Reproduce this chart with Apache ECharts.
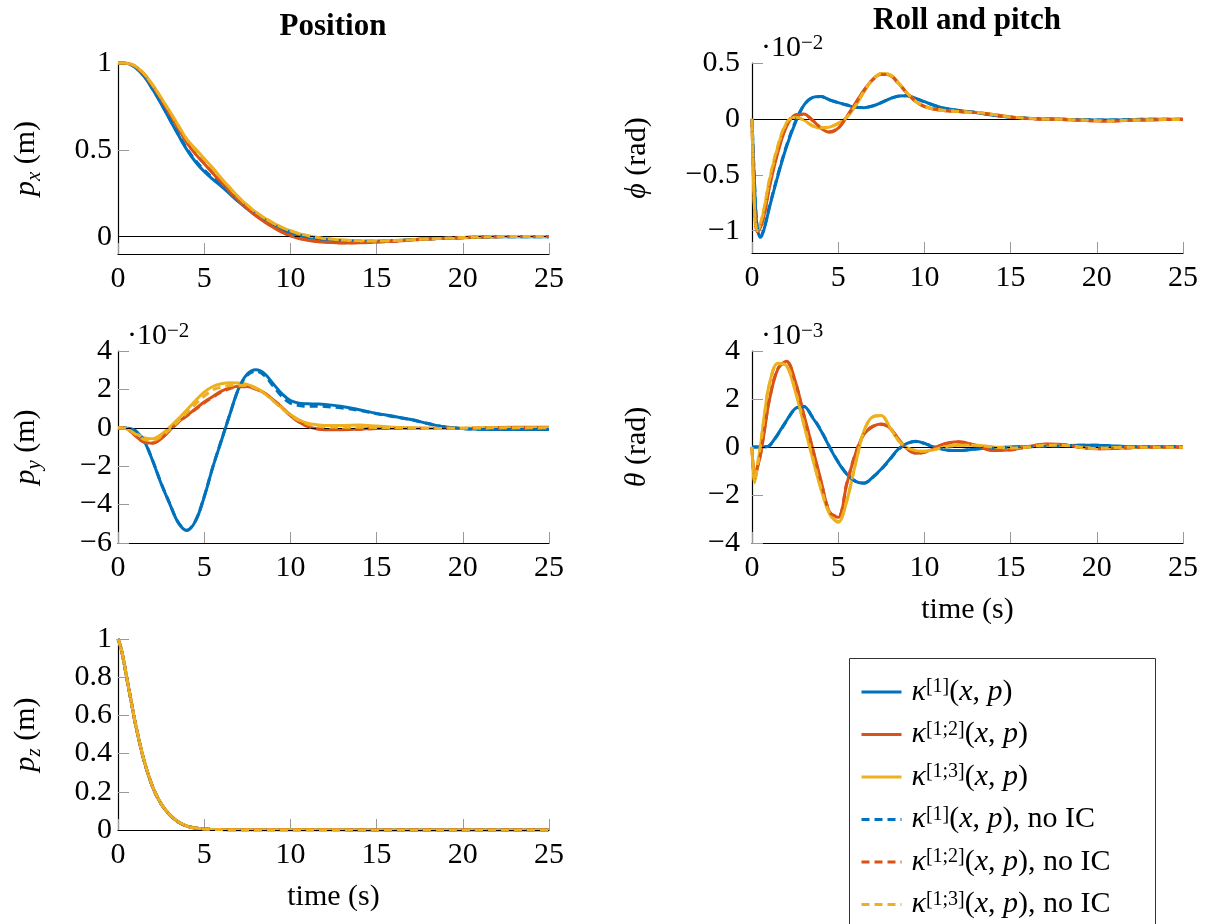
<!DOCTYPE html>
<html><head><meta charset="utf-8">
<script src="https://cdn.jsdelivr.net/npm/echarts@6/dist/echarts.min.js"></script>
<style>html,body{margin:0;padding:0;background:#fff}#c{width:1208px;height:924px}</style>
</head><body><div id="c"></div>
<script>
// ---------------- DATA ----------------
const TIME = [0,0.15,0.3,0.5,0.75,1,1.5,2,2.5,3,3.5,4,4.5,5,5.5,6,6.5,7,7.5,8,8.5,9,9.5,10,10.5,11,11.5,12,13,14,15,16,17,18,19,20,21,22,23,24,25];
const X_TICKS = [0,5,10,15,20,25];
const PX_TICKS = [0,0.5,1];
const PY_TICKS = [-6,-4,-2,0,2,4];
const PZ_TICKS = [0,0.2,0.4,0.6,0.8,1];
const PHI_TICKS = [-1,-0.5,0,0.5];
const THETA_TICKS = [-4,-2,0,2,4];
const SERIES_NAMES = ['κ[1](x, p)','κ[1;2](x, p)','κ[1;3](x, p)','κ[1](x, p), no IC','κ[1;2](x, p), no IC','κ[1;3](x, p), no IC'];

// p_x (m)
const PX_K1 = [1,1,1,0.998,0.99,0.975, 0.925,0.85,0.765,0.675,0.585,0.5,0.43,0.375,0.33,0.29,0.245,0.2,0.16,0.122,0.09,0.064,0.04,0.02,0.006,-0.005,-0.013,-0.019, -0.026,-0.028,-0.027,-0.023,-0.018,-0.013,-0.009,-0.006,-0.003,-0.001,0,0,0];
const PX_K12 = [1,1,1,0.998,0.992,0.98, 0.935,0.868,0.79,0.705,0.622,0.54,0.475,0.42,0.365,0.31,0.255,0.205,0.16,0.12,0.085,0.054,0.026,0.004,-0.011,-0.021,-0.028,-0.032, -0.036,-0.035,-0.031,-0.026,-0.02,-0.014,-0.009,-0.005,-0.002,0,0.001,0.001,0.001];
const PX_K13 = [1,1,1,0.998,0.993,0.982, 0.94,0.875,0.8,0.722,0.64,0.56,0.505,0.45,0.395,0.335,0.28,0.226,0.18,0.14,0.107,0.078,0.053,0.033,0.017,0.005,-0.004,-0.011, -0.02,-0.024,-0.025,-0.022,-0.018,-0.013,-0.009,-0.005,-0.002,0,0.001,0.001,0.001];
const PX_K1_NOIC = [1,1,1,0.998,0.99,0.976, 0.927,0.853,0.768,0.678,0.59,0.506,0.438,0.383,0.338,0.295,0.25,0.206,0.166,0.128,0.097,0.07,0.046,0.026,0.01,-0.002,-0.01,-0.016, -0.023,-0.026,-0.026,-0.023,-0.018,-0.013,-0.009,-0.006,-0.003,-0.001,0,0,0];
const PX_K12_NOIC = [1,1,1,0.998,0.992,0.98, 0.936,0.87,0.793,0.708,0.625,0.544,0.478,0.423,0.368,0.313,0.258,0.208,0.163,0.123,0.088,0.057,0.029,0.007,-0.009,-0.019,-0.026,-0.031, -0.035,-0.034,-0.031,-0.026,-0.02,-0.014,-0.009,-0.005,-0.002,0,0.001,0.001,0.001];
const PX_K13_NOIC = [1,1,1,0.998,0.993,0.982, 0.94,0.874,0.799,0.72,0.638,0.558,0.5,0.446,0.392,0.333,0.279,0.226,0.181,0.141,0.108,0.079,0.054,0.034,0.018,0.006,-0.003,-0.01, -0.019,-0.024,-0.025,-0.022,-0.018,-0.013,-0.009,-0.005,-0.002,0,0.001,0.001,0.001];

// p_y (m) x 1e-2
const PY_K1 = [0,0,0,-0.02,-0.06,-0.15, -0.66,-1.7,-2.9,-3.96,-4.95,-5.35,-4.85,-3.6,-2.05,-0.66,0.73,2.05,2.8,3.02,2.82,2.3,1.78,1.42,1.28,1.25,1.24,1.22, 1.11,0.94,0.75,0.6,0.43,0.22,0.04,-0.04,-0.08,-0.09,-0.09,-0.09,-0.09];
const PY_K12 = [0,0,-0.01,-0.05,-0.2,-0.4, -0.75,-0.8,-0.57,-0.14,0.3,0.64,0.99,1.34,1.63,1.91,2.08,2.17,2.15,2.03,1.81,1.46,1.08,0.64,0.3,0.07,-0.05,-0.1, -0.1,-0.07,-0.03,-0.02,-0.02,-0.02,-0.02,-0.03,-0.02,0.02,0.03,0.03,0.03];
const PY_K13 = [0,0,-0.01,-0.05,-0.15,-0.28, -0.52,-0.57,-0.35,0.03,0.47,0.94,1.42,1.86,2.15,2.29,2.34,2.33,2.26,2.08,1.81,1.42,1.04,0.69,0.42,0.24,0.16,0.12, 0.12,0.14,0.09,0.03,0,-0.02,-0.02,-0.02,0,0,0,0,0];
const PY_K1_NOIC = [0,0,0,-0.02,-0.06,-0.15, -0.65,-1.68,-2.88,-3.94,-4.93,-5.33,-4.83,-3.58,-2.03,-0.64,0.74,2.03,2.74,2.95,2.72,2.18,1.64,1.28,1.16,1.12,1.12,1.11, 1.03,0.9,0.73,0.58,0.42,0.21,0.04,-0.04,-0.08,-0.09,-0.09,-0.09,-0.09];
const PY_K12_NOIC = [0,0,-0.01,-0.05,-0.2,-0.4, -0.74,-0.79,-0.56,-0.13,0.29,0.62,0.96,1.3,1.59,1.87,2.05,2.14,2.13,2.01,1.8,1.45,1.07,0.63,0.3,0.07,-0.04,-0.08, -0.09,-0.07,-0.04,-0.03,-0.03,-0.03,-0.03,-0.03,-0.02,0.01,0.02,0.02,0.02];
const PY_K13_NOIC = [0,0,-0.01,-0.05,-0.17,-0.32, -0.6,-0.65,-0.45,-0.08,0.35,0.8,1.25,1.65,1.98,2.12,2.2,2.22,2.2,2.05,1.78,1.4,1.02,0.66,0.38,0.2,0.1,0.05, 0.03,0.03,0.02,0,-0.02,-0.03,-0.03,-0.02,-0.01,0,0,0,0];

// p_z (m)
const PZ_K1 = [1,0.96,0.9,0.8,0.68,0.56, 0.366,0.227,0.136,0.079,0.042,0.02,0.01,0.005,0.003,0.002,0.0015,0.001,0.001,0.001,0.001,0.001,0.001,0.001,0.001,0.001,0.001,0.001, 0.001,0,0,0,0,0,0,0,0,0,0,0,0];
const PZ_K12 = [1,0.96,0.9,0.8,0.681,0.561, 0.367,0.228,0.137,0.08,0.042,0.02,0.01,0.005,0.003,0.002,0.0015,0.001,0.001,0.001,0.001,0.001,0.001,0.001,0.001,0.001,0.001,0.001, 0.001,0,0,0,0,0,0,0,0,0,0,0,0];
const PZ_K13 = [1,0.96,0.9,0.801,0.682,0.562, 0.368,0.229,0.137,0.08,0.043,0.021,0.01,0.005,0.003,0.002,0.0015,0.001,0.001,0.001,0.001,0.001,0.001,0.001,0.001,0.001,0.001,0.001, 0.001,0,0,0,0,0,0,0,0,0,0,0,0];
const PZ_K1_NOIC = [1,0.96,0.9,0.8,0.68,0.56, 0.366,0.227,0.136,0.079,0.042,0.02,0.01,0.005,0.003,0.002,0.0015,0.001,0.001,0.001,0.001,0.001,0.001,0.001,0.001,0.001,0.001,0.001, 0.001,0,0,0,0,0,0,0,0,0,0,0,0];
const PZ_K12_NOIC = [1,0.96,0.9,0.8,0.681,0.561, 0.367,0.228,0.137,0.08,0.042,0.02,0.01,0.005,0.003,0.002,0.0015,0.001,0.001,0.001,0.001,0.001,0.001,0.001,0.001,0.001,0.001,0.001, 0.001,0,0,0,0,0,0,0,0,0,0,0,0];
const PZ_K13_NOIC = [1,0.96,0.9,0.801,0.682,0.562, 0.368,0.229,0.137,0.08,0.043,0.021,0.01,0.005,0.003,0.002,0.0015,0.001,0.001,0.001,0.001,0.001,0.001,0.001,0.001,0.001,0.001,0.001, 0.001,0,0,0,0,0,0,0,0,0,0,0,0];

// phi (rad) x 1e-2
const PHI_K1 = [0,-0.6,-0.98,-1.06,-0.96,-0.8, -0.51,-0.25,-0.04,0.12,0.19,0.2,0.17,0.145,0.124,0.104,0.1,0.115,0.145,0.18,0.204,0.207,0.183,0.154,0.124,0.1,0.086,0.074, 0.056,0.033,0.015,0.006,0,-0.003,-0.006,-0.009,-0.009,-0.006,-0.003,-0.003,-0.003];
const PHI_K12 = [0,-0.78,-1.01,-0.97,-0.83,-0.62, -0.3,-0.07,0.035,0.044,-0.01,-0.083,-0.12,-0.083,0.02,0.14,0.257,0.352,0.4,0.39,0.317,0.228,0.154,0.11,0.089,0.077,0.071,0.065, 0.056,0.038,0.015,0.003,-0.003,-0.005,-0.012,-0.018,-0.018,-0.012,-0.009,-0.006,-0.006];
const PHI_K13 = [0,-0.82,-1.0,-0.94,-0.77,-0.56, -0.25,-0.04,0.015,-0.01,-0.062,-0.083,-0.074,-0.04,0.015,0.115,0.243,0.352,0.405,0.396,0.322,0.23,0.156,0.112,0.09,0.078,0.072,0.066, 0.057,0.04,0.017,0.005,-0.002,-0.004,-0.01,-0.015,-0.016,-0.011,-0.008,-0.005,-0.005];
const PHI_K1_NOIC = [0,-0.58,-0.96,-1.05,-0.95,-0.79, -0.5,-0.24,-0.03,0.12,0.19,0.2,0.17,0.145,0.124,0.105,0.101,0.116,0.146,0.18,0.203,0.206,0.183,0.154,0.125,0.101,0.087,0.075, 0.057,0.034,0.016,0.006,0,-0.003,-0.006,-0.009,-0.009,-0.006,-0.003,-0.003,-0.003];
const PHI_K12_NOIC = [0,-0.76,-0.99,-0.96,-0.82,-0.61, -0.29,-0.06,0.035,0.04,-0.012,-0.08,-0.115,-0.08,0.02,0.138,0.255,0.35,0.398,0.39,0.318,0.23,0.156,0.112,0.09,0.078,0.071,0.065, 0.056,0.038,0.015,0.003,-0.003,-0.005,-0.012,-0.018,-0.018,-0.012,-0.009,-0.006,-0.006];
const PHI_K13_NOIC = [0,-0.8,-0.99,-0.93,-0.76,-0.55, -0.24,-0.035,0.015,-0.01,-0.06,-0.08,-0.072,-0.04,0.016,0.118,0.246,0.354,0.403,0.393,0.32,0.23,0.157,0.113,0.091,0.079,0.072,0.066, 0.057,0.04,0.017,0.005,-0.002,-0.004,-0.01,-0.015,-0.016,-0.011,-0.008,-0.005,-0.005];

// theta (rad) x 1e-3
const TH_K1 = [0,0,0,0,0.01,0.05, 0.54,1.1,1.6,1.7,1.24,0.68,-0.01,-0.64,-1.13,-1.43,-1.51,-1.26,-0.92,-0.5,-0.08,0.15,0.24,0.15,0.01,-0.08,-0.15,-0.15, -0.08,-0.04,0,0.01,0.03,0.05,0.07,0.07,0.04,0.01,0.01,0.01,0.01];
const TH_K12 = [0,-1.35,-0.9,-0.3,0.82,1.93, 3.25,3.57,2.76,1.37,-0.01,-1.4,-2.72,-2.93,-1.54,-0.29,0.54,0.85,0.96,0.79,0.33,-0.08,-0.26,-0.22,-0.08,0.1,0.19,0.22, 0.06,-0.15,-0.12,0.01,0.12,0.1,-0.01,-0.07,-0.06,-0.03,-0.01,-0.01,-0.01];
const TH_K13 = [0,-1.5,-0.85,0.1,1.5,2.6, 3.49,3.39,2.35,0.96,-0.43,-1.75,-2.79,-3.14,-2.24,-0.71,0.68,1.26,1.31,0.82,0.26,-0.04,-0.15,-0.18,-0.12,-0.03,0.04,0.07, 0.07,0,-0.04,0,0.07,0.07,0,-0.06,-0.02,-0.01,-0.01,-0.01,-0.01];
const TH_K1_NOIC = [0,0,0,0,0.01,0.05, 0.52,1.08,1.58,1.68,1.26,0.7,0.01,-0.62,-1.12,-1.42,-1.5,-1.27,-0.93,-0.52,-0.1,0.14,0.23,0.15,0.02,-0.07,-0.14,-0.15, -0.08,-0.04,0,0.01,0.03,0.05,0.07,0.07,0.04,0.01,0.01,0.01,0.01];
const TH_K12_NOIC = [0,-1.3,-0.88,-0.28,0.84,1.95, 3.27,3.56,2.74,1.35,-0.03,-1.42,-2.7,-2.9,-1.5,-0.27,0.55,0.86,0.95,0.78,0.32,-0.09,-0.26,-0.22,-0.08,0.09,0.18,0.21, 0.06,-0.14,-0.12,0.01,0.11,0.1,-0.01,-0.07,-0.06,-0.03,-0.01,-0.01,-0.01];
const TH_K13_NOIC = [0,-1.45,-0.82,0.12,1.48,2.58, 3.47,3.4,2.38,0.99,-0.4,-1.72,-2.76,-3.1,-2.22,-0.7,0.67,1.24,1.3,0.83,0.27,-0.03,-0.15,-0.18,-0.12,-0.03,0.04,0.07, 0.07,0,-0.04,0,0.07,0.07,0,-0.06,-0.02,-0.01,-0.01,-0.01,-0.01];

// ---------------- STYLE / BUILD ----------------
const FONT = '"Liberation Serif", "Times New Roman", serif';
const FS = 30;
const COLORS = ['#0072BD', '#D95319', '#EDB120'];
const PANELS = [
  { grid: { left: 118, top: 63, width: 431, height: 191 }, min: -0.1, max: 1, ticks: PX_TICKS,
    sets: [PX_K1, PX_K12, PX_K13, PX_K1_NOIC, PX_K12_NOIC, PX_K13_NOIC],
    yname: '{i|p}{sub|x}{n| (m)}', nameGap: 77, labelMargin: 6, xname: '' },
  { grid: { left: 118, top: 351, width: 431, height: 192 }, min: -6, max: 4, ticks: PY_TICKS,
    sets: [PY_K1, PY_K12, PY_K13, PY_K1_NOIC, PY_K12_NOIC, PY_K13_NOIC],
    yname: '{i|p}{sub|y}{n| (m)}', nameGap: 77, labelMargin: 6, xname: '' },
  { grid: { left: 118, top: 639, width: 431, height: 191 }, min: 0, max: 1, ticks: PZ_TICKS,
    sets: [PZ_K1, PZ_K12, PZ_K13, PZ_K1_NOIC, PZ_K12_NOIC, PZ_K13_NOIC],
    yname: '{i|p}{sub|z}{n| (m)}', nameGap: 77, labelMargin: 6, xname: 'time (s)' },
  { grid: { left: 752, top: 63, width: 431, height: 190 }, min: -1.2, max: 0.5, ticks: PHI_TICKS,
    sets: [PHI_K1, PHI_K12, PHI_K13, PHI_K1_NOIC, PHI_K12_NOIC, PHI_K13_NOIC],
    yname: '{i|ϕ}{n| (rad)}', nameGap: 100, labelMargin: 12, xname: '' },
  { grid: { left: 752, top: 351, width: 431, height: 192 }, min: -4, max: 4, ticks: THETA_TICKS,
    sets: [TH_K1, TH_K12, TH_K13, TH_K1_NOIC, TH_K12_NOIC, TH_K13_NOIC],
    yname: '{i|θ}{n| (rad)}', nameGap: 100, labelMargin: 12, xname: 'time (s)' }
];

const fmt = v => { const r = parseFloat(Number(v).toFixed(3)); return (r < 0 ? '\u2212' : '') + Math.abs(r); };
const tickStyle = { show: true, inside: true, length: 11, lineStyle: { color: '#9a9a9a', width: 1 } };
const axisLineStyle = { show: true, onZero: false, lineStyle: { color: '#000', width: 1.2 } };
const nameRich = {
  i: { fontFamily: FONT, fontSize: FS, fontStyle: 'italic', color: '#000', lineHeight: 30 },
  n: { fontFamily: FONT, fontSize: FS, color: '#000', lineHeight: 30 },
  sub: { fontFamily: FONT, fontSize: 21, fontStyle: 'italic', color: '#000', lineHeight: 21, verticalAlign: 'top', padding: [13, 0, 0, 0] }
};

const grids = [], xAxes = [], yAxes = [], series = [];
PANELS.forEach((p, gi) => {
  grids.push(Object.assign({ containLabel: false }, p.grid));
  xAxes.push({
    type: 'value', gridIndex: gi, min: 0, max: 25, interval: 5,
    axisLine: axisLineStyle, axisTick: tickStyle, splitLine: { show: false },
    axisLabel: { margin: 10, fontFamily: FONT, fontSize: FS, color: '#000', formatter: fmt, customValues: X_TICKS },
    name: p.xname, nameLocation: 'middle', nameGap: 52,
    nameTextStyle: { fontFamily: FONT, fontSize: FS, color: '#000' }
  });
  yAxes.push({
    type: 'value', gridIndex: gi, min: p.min, max: p.max,
    axisLine: axisLineStyle, splitLine: { show: false },
    axisTick: Object.assign({ customValues: p.ticks }, tickStyle),
    axisLabel: { margin: p.labelMargin, fontFamily: FONT, fontSize: FS, color: '#000', formatter: fmt, customValues: p.ticks },
    name: p.yname, nameLocation: 'middle', nameRotate: 90, nameGap: p.nameGap,
    nameTextStyle: { fontFamily: FONT, fontSize: FS, color: '#000', rich: nameRich }
  });
  p.sets.forEach((vals, si) => {
    const s = {
      type: 'line', name: SERIES_NAMES[si], xAxisIndex: gi, yAxisIndex: gi,
      data: TIME.map((t, i) => [t, vals[i]]),
      symbol: 'none', smooth: 0.35, silent: true, animation: false,
      lineStyle: { color: COLORS[si % 3], width: 3, type: si < 3 ? 'solid' : [8, 5] },
      itemStyle: { color: COLORS[si % 3] },
      z: 2 + si
    };
    if (si === 5) {
      s.markLine = {
        silent: true, symbol: 'none', animation: false, label: { show: false },
        lineStyle: { color: '#000', width: 1, type: 'solid' },
        emphasis: { disabled: true },
        data: [{ yAxis: 0 }]
      };
    }
    series.push(s);
  });
});

const legendRich = {
  k: { fontFamily: FONT, fontSize: FS, fontStyle: 'italic', color: '#000', lineHeight: 30, padding: [0, 0, 0, 5] },
  s: { fontFamily: FONT, fontSize: 20, color: '#000', lineHeight: 14, verticalAlign: 'top' },
  i: { fontFamily: FONT, fontSize: FS, fontStyle: 'italic', color: '#000', lineHeight: 30 },
  n: { fontFamily: FONT, fontSize: FS, color: '#000', lineHeight: 30 }
};
const multRich = {
  a: { fontFamily: FONT, fontSize: FS, fill: '#000', lineHeight: 30 },
  b: { fontFamily: FONT, fontSize: 21, fill: '#000', lineHeight: 12, verticalAlign: 'top' }
};

const option = {
  backgroundColor: '#fff',
  animation: false,
  grid: grids, xAxis: xAxes, yAxis: yAxes, series: series,
  legend: {
    orient: 'vertical', left: 855, top: 672, height: 400, z: 10,
    itemWidth: 40, itemHeight: 14, itemGap: 12.5,
    selectedMode: false, data: SERIES_NAMES,
    lineStyle: { width: 3 },
    itemStyle: { opacity: 0, borderWidth: 0 },
    textStyle: { fontFamily: FONT, fontSize: FS, color: '#000', rich: legendRich },
    formatter: name => {
      const m = name.match(/^κ\[(.+?)\]\(x, p\)(.*)$/);
      return '{k|κ}{s|[' + m[1] + ']}{n|(}{i|x}{n|, }{i|p}{n|)}' + (m[2] ? '{n|' + m[2] + '}' : '');
    }
  },
  graphic: [
    { type: 'text', x: 333, y: 27, style: { text: 'Position', fontFamily: FONT, fontSize: 31, fontWeight: 'bold', fill: '#000', align: 'center', verticalAlign: 'middle' } },
    { type: 'text', x: 967, y: 21, style: { text: 'Roll and pitch', fontFamily: FONT, fontSize: 31, fontWeight: 'bold', fill: '#000', align: 'center', verticalAlign: 'middle' } },
    { type: 'text', x: 127, y: 336, style: { text: '{a|·10}{b|\u22122}', rich: multRich, align: 'left', verticalAlign: 'middle' } },
    { type: 'text', x: 761, y: 48, style: { text: '{a|·10}{b|\u22122}', rich: multRich, align: 'left', verticalAlign: 'middle' } },
    { type: 'text', x: 761, y: 336, style: { text: '{a|·10}{b|\u22123}', rich: multRich, align: 'left', verticalAlign: 'middle' } },
    { type: 'rect', z: 0, shape: { x: 849.5, y: 658.5, width: 306, height: 300 }, style: { fill: '#fff', stroke: '#333', lineWidth: 1 } }
  ]
};

const chart = echarts.init(document.getElementById('c'), null, { renderer: 'canvas' });
chart.setOption(option);
</script></body></html>
